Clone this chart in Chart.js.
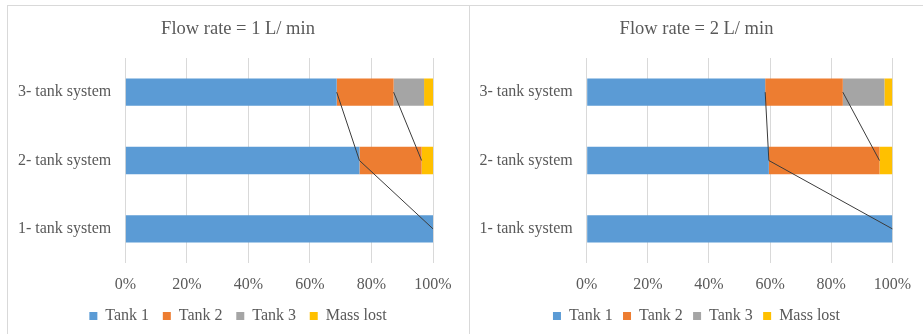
<!DOCTYPE html>
<html>
<head>
<meta charset="utf-8">
<script src="https://cdn.jsdelivr.net/npm/chart.js@4"></script>
<style>
  html, body { margin: 0; padding: 0; background: #ffffff; }
  body { width: 923px; height: 334px; position: relative; overflow: hidden; }
  .frame { position: absolute; background: #d9d9d9; }
  .panel { position: absolute; top: 7px; height: 327px; }
</style>
</head>
<body>
<div class="frame" style="left:7px; top:5px; width:916px; height:1px;"></div>
<div class="frame" style="left:7px; top:5px; width:1px; height:329px;"></div>
<div class="frame" style="left:469px; top:5px; width:1px; height:329px;"></div>

<div class="panel" style="left:8px; width:460px;"><canvas id="c1" width="460" height="327"></canvas></div>
<div class="panel" style="left:470px; width:453px;"><canvas id="c2" width="453" height="327"></canvas></div>

<script>
// Share of mass (%) collected in each tank, per system configuration
const categories = ['3- tank system', '2- tank system', '1- tank system'];
const seriesNames = ['Tank 1', 'Tank 2', 'Tank 3', 'Mass lost'];
const xTicks = [0, 20, 40, 60, 80, 100];

// Flow rate = 1 L/min
const tank1Flow1 = [68.7, 76.1, 100];
const tank2Flow1 = [18.5, 20.2, null];
const tank3Flow1 = [9.9, null, null];
const lostFlow1  = [2.9, 3.7, null];

// Flow rate = 2 L/min
const tank1Flow2 = [58.4, 59.6, 100];
const tank2Flow2 = [25.4, 36.2, null];
const tank3Flow2 = [13.6, null, null];
const lostFlow2  = [2.6, 4.2, null];

const colors = ['#5B9BD5', '#ED7D31', '#A5A5A5', '#FFC000'];
const textColor = '#595959';
const serif = "'Liberation Serif', 'Times New Roman', serif";

// Connector lines between the ends of the same series on neighbouring bars
const seriesLines = {
  id: 'seriesLines',
  afterDatasetsDraw(chart) {
    const ctx = chart.ctx;
    ctx.save();
    ctx.strokeStyle = '#3b3b3b';
    ctx.lineWidth = 1;
    chart.data.datasets.forEach((ds, di) => {
      if (!ds.seriesLine) return;
      const meta = chart.getDatasetMeta(di);
      for (let i = 0; i < ds.data.length - 1; i++) {
        if (ds.data[i] == null || ds.data[i + 1] == null) continue;
        const a = meta.data[i], b = meta.data[i + 1];
        ctx.beginPath();
        ctx.moveTo(a.x, a.y);
        ctx.lineTo(b.x, b.y);
        ctx.stroke();
      }
    });
    ctx.restore();
  }
};

function makeChart(id, title, values, legendGap, rightGap) {
  const datasets = values.map((v, i) => ({
    label: seriesNames[i],
    data: v,
    backgroundColor: colors[i],
    borderWidth: 0,
    barPercentage: 0.4,
    categoryPercentage: 1,
    seriesLine: i < 2
  }));
  return new Chart(document.getElementById(id), {
    type: 'bar',
    data: { labels: categories, datasets },
    plugins: [seriesLines],
    options: {
      indexAxis: 'y',
      responsive: false,
      animation: false,
      layout: { padding: { left: 0, right: 0, top: 0, bottom: 0 } },
      scales: {
        x: {
          stacked: true,
          min: 0, max: 100,
          afterBuildTicks: s => { s.ticks = xTicks.map(v => ({ value: v })); },
          afterFit: s => { s.height = 45 - legendGap; },
          grid: { color: '#d9d9d9', lineWidth: 1, drawTicks: false },
          border: { display: false },
          ticks: {
            padding: 12,
            color: textColor,
            font: { family: serif, size: 16 },
            callback: v => v + '%'
          }
        },
        y: {
          stacked: true,
          afterFit: s => { s.width = id === 'c1' ? 117.3 : 116.7; },
          grid: { display: false, drawTicks: false },
          border: { display: false },
          ticks: {
            padding: 14,
            color: textColor,
            font: { family: serif, size: 16 }
          }
        },
        yRight: {
          type: 'category',
          position: 'right',
          afterFit: s => { s.width = rightGap; },
          grid: { display: false, drawTicks: false },
          border: { display: false },
          ticks: { display: false }
        }
      },
      plugins: {
        title: {
          display: true,
          text: title,
          color: textColor,
          font: { family: serif, size: 18.5, weight: 'normal' },
          padding: { top: 11, bottom: 17.8 }
        },
        legend: {
          position: 'bottom',
          labels: {
            boxWidth: 8,
            boxHeight: 8,
            padding: legendGap,
            color: textColor,
            font: { family: serif, size: 16 }
          }
        },
        tooltip: { enabled: false }
      }
    }
  });
}

makeChart('c1', 'Flow rate = 1 L/ min', [tank1Flow1, tank2Flow1, tank3Flow1, lostFlow1], 13.7, 35);
makeChart('c2', 'Flow rate = 2 L/ min', [tank1Flow2, tank2Flow2, tank3Flow2, lostFlow2], 10.3, 30);
</script>
</body>
</html>
